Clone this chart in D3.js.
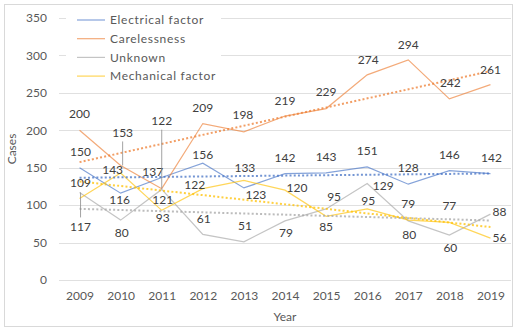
<!DOCTYPE html>
<html>
<head>
<meta charset="utf-8">
<script src="https://cdn.jsdelivr.net/npm/d3@7"></script>
<style>
  body { margin: 0; background: #fff; }
  text { font-family: Lato, "Open Sans", sans-serif; }
</style>
</head>
<body>
<svg id="chart" width="518" height="331"></svg>
<script>
// data
const years = ["2009", "2010", "2011", "2012", "2013", "2014", "2015", "2016", "2017", "2018", "2019"];
const electrical = [150, 116, 137, 156, 123, 142, 143, 151, 128, 146, 142];
const carelessness = [200, 153, 122, 209, 198, 219, 229, 274, 294, 242, 261];
const unknown = [117, 80, 121, 61, 51, 79, 95, 129, 79, 60, 88];
const mechanical = [109, 143, 93, 122, 133, 120, 85, 95, 80, 77, 56];
const yTicks = [0, 50, 100, 150, 200, 250, 300, 350];
const seriesNames = ["Electrical factor", "Carelessness", "Unknown", "Mechanical factor"];

// label nudges (px, label centre relative to the point)
const labelShift = {
  "Electrical factor": [[1,-16],[-1,7],[-9,-6],[0,-8],[12,7],[0,-16],[0,-16],[0,-16],[0,-16],[0,-16],[1,-16]],
  "Carelessness": [[0,-16],[2,-33],[0,-68],[0,-16],[-1,-17],[0,-15],[0,-17],[1,-15],[0,-15],[1,-16],[0,-15]],
  "Unknown": [[1,34],[1,13],[1,10],[1,-16],[1,-16],[1,12],[8,-12],[16,2],[0,-17],[1,13],[9,-2]],
  "Mechanical factor": [[1,-16],[-8,-3],[1,7],[-8,-4],[1,-13],[12,-2],[0,10],[1,-8],[1,15],[0,-17],[9,0]]
};

const colors = {
  "Electrical factor": "#4472C4",
  "Carelessness": "#ED7D31",
  "Unknown": "#A5A5A5",
  "Mechanical factor": "#FFC000"
};

const series = [
  { name: seriesNames[0], values: electrical },
  { name: seriesNames[1], values: carelessness },
  { name: seriesNames[2], values: unknown },
  { name: seriesNames[3], values: mechanical }
];

const svg = d3.select("#chart");
const plotLeft = 59, plotRight = 511, plotTop = 18, plotBottom = 280;

svg.append("rect")
    .attr("x", 4.5).attr("y", 4.5)
    .attr("width", 508).attr("height", 322)
    .attr("fill", "#fff")
    .attr("stroke", "#d9d9d9");

const x = d3.scalePoint().domain(years).range([plotLeft, plotRight]).padding(0.5);
const y = d3.scaleLinear().domain([0, 350]).range([plotBottom, plotTop]);

// gridlines
svg.append("g").selectAll("line")
    .data(yTicks)
    .enter().append("line")
    .attr("x1", plotLeft).attr("x2", plotRight)
    .attr("y1", d => Math.round(y(d)) + 0.5)
    .attr("y2", d => Math.round(y(d)) + 0.5)
    .attr("stroke", "#e0e0e0");

// axes (text only)
const yAxis = svg.append("g")
    .attr("transform", `translate(${plotLeft},0)`)
    .call(d3.axisLeft(y).tickValues(yTicks).tickSize(0).tickPadding(12));
yAxis.select(".domain").remove();
yAxis.selectAll("text").attr("font-size", 12).attr("fill", "#595959").style("font-family", "Lato");

const xAxis = svg.append("g")
    .attr("transform", `translate(0,${plotBottom})`)
    .call(d3.axisBottom(x).tickSize(0).tickPadding(11));
xAxis.select(".domain").remove();
xAxis.selectAll("text").attr("font-size", 12).attr("fill", "#595959").style("font-family", "Lato");

svg.append("text")
    .attr("x", (plotLeft + plotRight) / 2).attr("y", 321)
    .attr("text-anchor", "middle")
    .attr("font-size", 12).attr("fill", "#595959")
    .text("Year");

svg.append("text")
    .attr("transform", `translate(16,${(plotTop + plotBottom) / 2}) rotate(-90)`)
    .attr("text-anchor", "middle")
    .attr("font-size", 12).attr("fill", "#595959")
    .text("Cases");

// series lines
const line = d3.line()
    .x((d, i) => x(years[i]))
    .y(d => y(d));

series.forEach(s => {
  svg.append("path")
      .datum(s.values)
      .attr("d", line)
      .attr("fill", "none")
      .attr("stroke", colors[s.name])
      .attr("stroke-width", 1.2)
      .attr("stroke-opacity", 0.65);
});

// linear trendlines
series.forEach(s => {
  const n = s.values.length;
  const mx = (n - 1) / 2, my = d3.mean(s.values);
  const slope = d3.sum(s.values, (v, i) => (i - mx) * (v - my)) / d3.sum(s.values, (v, i) => (i - mx) * (i - mx));
  const fit = s.values.map((v, i) => my + slope * (i - mx));
  svg.append("path")
      .datum([fit[0], fit[n - 1]])
      .attr("d", d3.line().x((d, i) => x(years[i * (n - 1)])).y(d => y(d)))
      .attr("fill", "none")
      .attr("stroke", colors[s.name])
      .attr("stroke-width", 2)
      .attr("stroke-dasharray", "2,2.2")
      .attr("stroke-opacity", 0.75);
});

// data labels (with leader lines when pulled away)
series.forEach(s => {
  const g = svg.append("g");
  s.values.forEach((v, i) => {
    const px = x(years[i]), py = y(v);
    const [dx, dy] = labelShift[s.name][i];
    if (Math.abs(dy) > 25) {
      const edge = dy < 0 ? py + dy + 9 : py + dy - 9;
      g.append("line")
          .attr("x1", px + dx).attr("x2", px + dx)
          .attr("y1", py).attr("y2", edge)
          .attr("stroke", "#8c8c8c").attr("stroke-width", 0.8);
    }
    g.append("text")
        .attr("x", px + dx).attr("y", py + dy)
        .attr("dy", "0.35em")
        .attr("text-anchor", "middle")
        .attr("font-size", 12)
        .attr("fill", "#404040")
        .text(v);
  });
});

// legend on a white patch
const legend = svg.append("g");
legend.append("rect")
    .attr("x", 66).attr("y", 9).attr("width", 155).attr("height", 77)
    .attr("fill", "#fff");
seriesNames.forEach((name, i) => {
  const ly = 20 + i * 18.7;
  legend.append("line")
      .attr("x1", 77).attr("x2", 105)
      .attr("y1", ly).attr("y2", ly)
      .attr("stroke", colors[name]).attr("stroke-width", 1.2).attr("stroke-opacity", 0.65);
  legend.append("text")
      .attr("x", 110).attr("y", ly).attr("dy", "0.35em")
      .attr("font-size", 12).attr("fill", "#595959")
      .attr("letter-spacing", 0.7)
      .text(name);
});
</script>
</body>
</html>
